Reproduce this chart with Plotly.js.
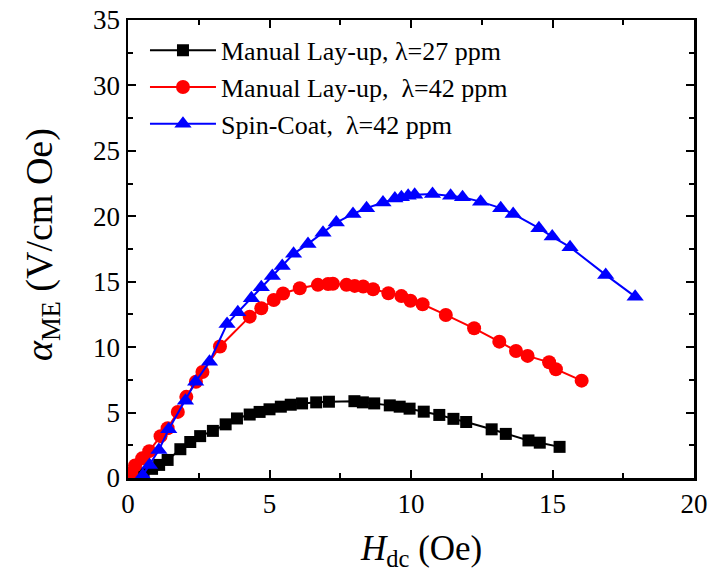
<!DOCTYPE html>
<html>
<head>
<meta charset="utf-8">
<script src="https://cdn.plot.ly/plotly-3.0.1.min.js"></script>
<style>html,body{margin:0;padding:0;background:#fff;}#chart{width:711px;height:572px;}</style>
</head>
<body>
<div id="chart"></div>
<script>
// Manual Lay-up, λ=27 ppm
var h27 = [0.25,0.55,0.85,1.1,1.4,1.85,2.2,2.55,3.0,3.45,3.85,4.3,4.65,5.0,5.4,5.75,6.15,6.65,7.1,8.0,8.3,8.7,9.25,9.6,9.95,10.45,11.0,11.5,11.95,12.85,13.35,14.15,14.55,15.25];
var a27 = [0.1,0.35,0.7,1.0,1.38,2.2,2.75,3.2,3.6,4.1,4.55,4.85,5.05,5.25,5.45,5.6,5.7,5.78,5.83,5.87,5.78,5.7,5.55,5.45,5.3,5.07,4.82,4.52,4.28,3.72,3.37,2.87,2.7,2.38];
// Manual Lay-up, λ=42 ppm
var h42m = [0.12,0.25,0.5,0.75,1.15,1.4,1.76,2.06,2.4,2.63,3.25,4.3,4.71,5.15,5.48,6.07,6.71,7.07,7.24,7.72,8.01,8.31,8.66,9.2,9.66,9.98,10.41,11.23,12.23,13.12,13.71,14.12,14.88,15.12,16.03];
var a42m = [0.4,0.95,1.5,2.05,3.2,3.8,5.05,6.2,7.35,8.1,10.05,12.33,12.97,13.6,14.1,14.5,14.76,14.83,14.85,14.76,14.68,14.63,14.42,14.12,13.9,13.55,13.28,12.46,11.44,10.42,9.71,9.33,8.84,8.31,7.44];
// Spin-Coat, λ=42 ppm
var h42s = [0.52,0.76,1.09,1.44,2.03,2.39,2.88,3.5,3.88,4.36,4.71,5.1,5.45,5.85,6.36,6.89,7.36,7.95,8.43,9.01,9.43,9.66,9.9,10.13,10.76,11.4,11.82,12.46,13.17,13.61,14.52,14.99,15.62,16.88,17.92];
var a42s = [0.2,1.0,2.14,3.72,5.91,7.36,8.89,11.77,12.67,13.74,14.58,15.44,16.21,17.13,17.89,18.75,19.52,20.18,20.62,21.05,21.35,21.46,21.56,21.64,21.71,21.56,21.46,21.12,20.62,20.18,19.09,18.45,17.64,15.52,13.86];

var names = ['Manual Lay-up, λ=27 ppm', 'Manual Lay-up,  λ=42 ppm', 'Spin-Coat,  λ=42 ppm'];
var xTicks = [0,5,10,15,20];
var yTicks = [0,5,10,15,20,25,30,35];
var xMinor = [2.5,7.5,12.5,17.5];
var yMinor = [2.5,7.5,12.5,17.5,22.5,27.5,32.5];
var xTitle = '<i>H</i><sub>dc</sub> (Oe)';
var yTitle = '<i>α</i><sub>ME</sub> (V/cm Oe)';

var FONT = '"Liberation Serif"';

var traces = [
  {x:h27, y:a27, name:names[0], mode:'lines+markers', type:'scatter',
   line:{color:'#000000', width:2}, marker:{symbol:'square', size:12, color:'#000000'}},
  {x:h42m, y:a42m, name:names[1], mode:'lines+markers', type:'scatter',
   line:{color:'#ff0000', width:2}, marker:{symbol:'circle', size:14, color:'#ff0000'}},
  {x:h42s, y:a42s, name:names[2], mode:'lines+markers', type:'scatter',
   line:{color:'#0000ff', width:2}, marker:{symbol:'triangle-up', size:15, color:'#0000ff'}}
];

function mkAxis(rng, tv, mv){
  return {
    range:rng, tickvals:tv, ticktext:tv.map(String),
    showline:true, linecolor:'#000', linewidth:2.5, mirror:'allticks',
    ticks:'inside', ticklen:8, tickwidth:2, tickcolor:'#000',
    showgrid:false, zeroline:false,
    tickfont:{family:FONT, size:27, color:'#000'},
    minor:{ticks:'inside', ticklen:5, tickwidth:2, tickcolor:'#000', showgrid:false, tickvals:mv}
  };
}

// plot area in pixels: left 128, right 694, top 20, bottom 478
var layout = {
  width:711, height:572,
  margin:{l:128, r:17, t:20, b:94},
  paper_bgcolor:'#fff', plot_bgcolor:'#fff',
  font:{family:FONT, color:'#000'},
  showlegend:true,
  legend:{x:0.03, y:0.985, xanchor:'left', yanchor:'top', bgcolor:'rgba(0,0,0,0)',
          font:{family:FONT, size:26, color:'#000'}, itemwidth:66, tracegroupgap:0},
  xaxis:mkAxis([0,20], xTicks, xMinor),
  yaxis:mkAxis([0,35], yTicks, yMinor),
  annotations:[
    {text:xTitle, xref:'paper', yref:'paper', x:(421-128)/566, y:(478-550)/458,
     xanchor:'center', yanchor:'middle', showarrow:false, font:{family:FONT, size:35, color:'#000'}},
    {text:yTitle, xref:'paper', yref:'paper', x:(42-128)/566, y:(478-245)/458, textangle:-90,
     xanchor:'center', yanchor:'middle', showarrow:false, font:{family:FONT, size:38, color:'#000'}}
  ]
};

Plotly.newPlot('chart', traces, layout, {displayModeBar:false, staticPlot:true});
</script>
</body>
</html>
